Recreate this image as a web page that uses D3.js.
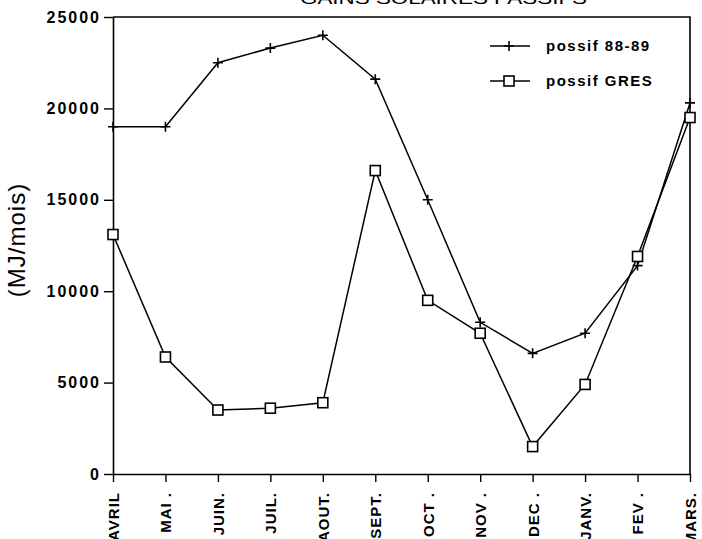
<!DOCTYPE html>
<html>
<head>
<meta charset="utf-8">
<script src="https://cdn.jsdelivr.net/npm/d3@7"></script>
<style>
  body { margin: 0; background: #fff; }
  svg { display: block; font-family: "Liberation Sans", Arial, sans-serif; }
</style>
</head>
<body>
<svg id="chart" width="702" height="539"></svg>
<script>
// Data
var months = ["AVRIL", "MAI .", "JUIN.", "JUIL.", "AOUT.", "SEPT.", "OCT .", "NOV .", "DEC .", "JANV.", "FEV .", "MARS."];
var passif8889 = [19000, 19000, 22500, 23300, 24000, 21600, 15000, 8300, 6600, 7700, 11400, 20300];
var passifGres = [13100, 6400, 3500, 3600, 3900, 16600, 9500, 7700, 1500, 4900, 11900, 19500];
var yTicks = [0, 5000, 10000, 15000, 20000, 25000];
var seriesNames = ["possif 88-89", "possif GRES"];

var svg = d3.select("#chart");

// plot box
var plotL = 113, plotR = 690, plotT = 17, plotB = 474;

var x = d3.scalePoint()
    .domain(months)
    .range([plotL, plotR]);

var y = d3.scaleLinear()
    .domain([0, 25000])
    .range([plotB, plotT]);

// title (cut at the top of the scan)
svg.append("text")
    .attr("x", 300)
    .attr("y", 4)
    .attr("textLength", 287)
    .attr("lengthAdjust", "spacingAndGlyphs")
    .style("font-size", "17px")
    .text("GAINS  SOLAIRES  PASSIFS");

// frame: top and right
svg.append("path")
    .attr("d", "M" + plotL + "," + plotT + "H" + plotR + "V" + plotB)
    .attr("fill", "none")
    .attr("stroke", "#000")
    .attr("stroke-width", 1.6);

// y axis
var yAxis = svg.append("g")
    .attr("transform", "translate(" + plotL + ",0)")
    .call(d3.axisLeft(y).tickValues(yTicks).tickSize(9).tickSizeOuter(0).tickPadding(3).tickFormat(d3.format("d")));
yAxis.select(".domain").attr("stroke-width", 1.6);
yAxis.selectAll(".tick line").attr("stroke-width", 1.4);
yAxis.selectAll("text")
    .style("font-size", "16px")
    .style("font-weight", "bold")
    .style("letter-spacing", "2px")
    .attr("fill", "#000");

// x axis
var xAxis = svg.append("g")
    .attr("transform", "translate(0," + plotB + ")")
    .call(d3.axisBottom(x).tickSize(8).tickSizeOuter(0));
xAxis.select(".domain").attr("stroke-width", 1.6);
xAxis.selectAll(".tick line").attr("stroke-width", 1.4);
xAxis.selectAll("text")
    .attr("transform", "rotate(-90)")
    .attr("x", -18)
    .attr("y", 0)
    .attr("dy", "0.36em")
    .style("text-anchor", "end")
    .style("font-size", "15px")
    .style("font-weight", "bold")
    .style("letter-spacing", "1px")
    .attr("fill", "#000");

// y label
svg.append("text")
    .attr("transform", "translate(25,240) rotate(-90)")
    .style("text-anchor", "middle")
    .style("font-size", "24px")
    .style("letter-spacing", "1px")
    .text("(MJ/mois)");

var line = d3.line()
    .x(function (d, i) { return x(months[i]); })
    .y(function (d) { return y(d); });

function plus(g, cx, cy) {
    g.append("path")
        .attr("d", "M" + (cx - 5) + "," + cy + "H" + (cx + 5) + "M" + cx + "," + (cy - 5) + "V" + (cy + 5))
        .attr("stroke", "#000")
        .attr("stroke-width", 1.6)
        .attr("fill", "none");
}

function square(g, cx, cy) {
    g.append("rect")
        .attr("x", cx - 5).attr("y", cy - 5)
        .attr("width", 10).attr("height", 10)
        .attr("fill", "#fff")
        .attr("stroke", "#000")
        .attr("stroke-width", 1.6);
}

var plot = svg.append("g");

plot.append("path")
    .datum(passif8889)
    .attr("d", line)
    .attr("fill", "none")
    .attr("stroke", "#000")
    .attr("stroke-width", 1.5);

plot.append("path")
    .datum(passifGres)
    .attr("d", line)
    .attr("fill", "none")
    .attr("stroke", "#000")
    .attr("stroke-width", 1.5);

passif8889.forEach(function (d, i) { plus(plot, x(months[i]), y(d)); });
passifGres.forEach(function (d, i) { square(plot, x(months[i]), y(d)); });

// legend
var legend = svg.append("g");
var markers = [plus, square];
seriesNames.forEach(function (name, i) {
    var ly = 46 + i * 35;
    legend.append("line")
        .attr("x1", 490).attr("x2", 530)
        .attr("y1", ly).attr("y2", ly)
        .attr("stroke", "#000")
        .attr("stroke-width", 1.5);
    markers[i](legend, 509, ly);
    legend.append("text")
        .attr("x", 546)
        .attr("y", ly + 5)
        .style("font-size", "15px")
        .style("font-weight", "bold")
        .style("letter-spacing", "1.5px")
        .text(name);
});
</script>
</body>
</html>
